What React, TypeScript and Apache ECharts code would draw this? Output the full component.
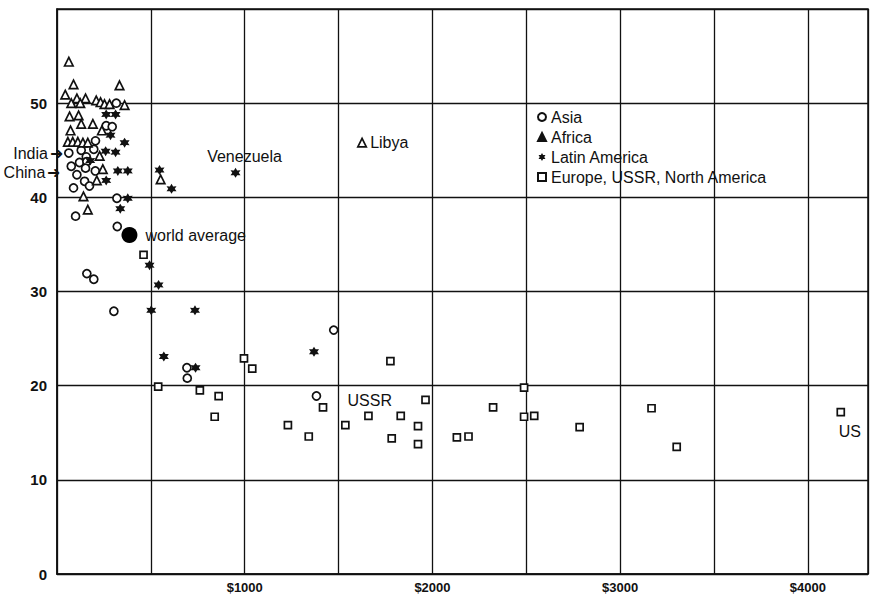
import React, { useEffect, useRef } from "react";
import * as echarts from "echarts";

// GNP per capita ($) vs birth rate (per 1000)
const asia: number[][] = [
  [316, 50.0], [262, 47.6], [294, 47.5], [205, 46.0], [129, 45.0], [196, 45.1],
  [156, 44.3], [120, 43.7], [159, 43.8], [106, 42.4], [152, 43.1], [204, 42.8],
  [147, 41.7], [173, 41.2], [88, 41.0], [319, 39.9], [99, 38.0], [321, 36.9],
  [159, 31.9], [196, 31.3], [303, 27.9], [692, 21.9], [694, 20.8], [1474, 25.9],
  [1382, 18.9],
];
const india = [63, 44.7];
const china = [76, 43.3];

const africa: number[][] = [
  [63, 54.4], [88, 52.0], [333, 51.9], [44, 50.9], [106, 50.5], [152, 50.5],
  [76, 50.0], [124, 50.0], [209, 50.3], [232, 50.1], [253, 49.9], [280, 49.9],
  [360, 49.8], [67, 48.6], [115, 48.7], [129, 47.8], [191, 47.8], [72, 47.1],
  [239, 47.1], [58, 45.9], [84, 45.9], [111, 45.9], [138, 45.8], [164, 45.8],
  [227, 44.4], [244, 43.0], [212, 41.8], [141, 40.1], [164, 38.7], [552, 41.9],
];
const libya = [1625, 45.8];

const latinAmerica: number[][] = [
  [262, 48.8], [312, 48.8], [285, 46.6], [360, 45.8], [259, 44.9], [312, 44.8],
  [177, 43.9], [324, 42.8], [377, 42.8], [262, 41.8], [377, 39.9], [337, 38.8],
  [546, 42.9], [610, 40.9], [493, 32.8], [541, 30.7], [502, 28.0], [735, 28.0],
  [569, 23.1], [738, 21.9], [1369, 23.6],
];
const venezuela = [951, 42.6];

const europe: number[][] = [
  [461, 33.9], [539, 19.9], [761, 19.5], [861, 18.9], [840, 16.7], [996, 22.9],
  [1040, 21.8], [1230, 15.8], [1341, 14.6], [1417, 17.7], [1536, 15.8], [1659, 16.8],
  [1776, 22.6], [1783, 14.4], [1831, 16.8], [1923, 15.7], [1923, 13.8], [1963, 18.5],
  [2130, 14.5], [2192, 14.6], [2323, 17.7], [2488, 19.8], [2488, 16.7], [2542, 16.8],
  [2784, 15.6], [3167, 17.6], [3301, 13.5],
];
const us = [4175, 17.2];
const ussrNote = [1666, 17.6];
const worldAverage = [386, 36.0];

const X_MAX = 4320;
const Y_MAX = 60;
const INK = "#111111";
const FONT = "'Liberation Sans', Arial, Helvetica, sans-serif";

const STAR =
  "path://M50 0L64 26L93.3 25L78 50L93.3 75L64 74L50 100L36 74L6.7 75L22 50L6.7 25L36 26Z";

const hollow = { color: "#ffffff", borderColor: INK, borderWidth: 1.7, opacity: 1 };
const noteLabel = { color: INK, fontFamily: FONT, fontSize: 16 };

export default function App() {
  const ref = useRef<HTMLDivElement>(null);
  useEffect(() => {
    if (!ref.current) return;
    const chart = echarts.init(ref.current, undefined, { renderer: "svg" });
    chart.setOption({
      animation: false,
      backgroundColor: "#ffffff",
      grid: {
        left: 57,
        top: 9,
        right: 3,
        bottom: 23,
        show: true,
        borderColor: INK,
        borderWidth: 1.5,
        backgroundColor: "transparent",
      },
      legend: {
        left: 532,
        top: 104,
        orient: "vertical",
        itemWidth: 8,
        itemHeight: 8,
        itemGap: 4,
        textStyle: { color: INK, fontFamily: FONT, fontSize: 16, padding: [0, 0, 0, 0] },
        data: [
          { name: "Asia", icon: "circle" },
          { name: "Africa", icon: "triangle", itemStyle: { color: INK, borderColor: INK } },
          { name: "Latin America", icon: STAR },
          { name: "Europe, USSR, North America", icon: "rect" },
        ],
      },
      xAxis: {
        type: "value",
        min: 0,
        max: X_MAX,
        interval: 500,
        axisLine: { show: true, lineStyle: { color: INK, width: 1.5 } },
        axisTick: { show: false },
        splitLine: { show: true, lineStyle: { color: INK, width: 1.3 } },
        axisLabel: {
          color: INK,
          fontFamily: FONT,
          fontWeight: "bold",
          fontSize: 13,
          margin: 7,
          showMaxLabel: false,
          formatter: (v: number) => (v > 0 && v % 1000 === 0 ? "$" + v : ""),
        },
      },
      yAxis: {
        type: "value",
        min: 0,
        max: Y_MAX,
        interval: 10,
        axisLine: { show: true, lineStyle: { color: INK, width: 1.5 } },
        axisTick: { show: false },
        splitLine: { show: true, lineStyle: { color: INK, width: 1.3 } },
        axisLabel: {
          color: INK,
          fontFamily: FONT,
          fontWeight: "bold",
          fontSize: 15,
          margin: 10,
          formatter: (v: number) => (v >= Y_MAX ? "" : String(v)),
        },
      },
      series: [
        {
          name: "Europe, USSR, North America",
          type: "scatter",
          symbol: "rect",
          symbolSize: 7,
          itemStyle: hollow,
          data: [
            ...europe,
            {
              value: us,
              label: { show: true, position: "bottom", distance: 7, offset: [9, 0], formatter: "US", ...noteLabel },
            },
          ],
        },
        {
          name: "Asia",
          type: "scatter",
          symbol: "circle",
          symbolSize: 8,
          itemStyle: hollow,
          data: [
            ...asia,
            {
              value: india,
              label: {
                show: true, position: "left", distance: 1, formatter: "India{a|\u279C}", ...noteLabel,
                rich: { a: { fontSize: 16, color: INK, padding: [0, 0, 0, 2] } },
              },
            },
            {
              value: china,
              label: {
                show: true, position: "left", distance: 6, offset: [0, 6], formatter: "China{a|\u279C}", ...noteLabel,
                rich: { a: { fontSize: 16, color: INK, padding: [0, 0, 0, 2] } },
              },
            },
          ],
        },
        {
          name: "Africa",
          type: "scatter",
          symbol: "triangle",
          symbolSize: 8.5,
          itemStyle: hollow,
          data: [
            ...africa,
            {
              value: libya,
              label: { show: true, position: "right", distance: 3, formatter: "Libya", ...noteLabel },
            },
          ],
        },
        {
          name: "Latin America",
          type: "scatter",
          symbol: STAR,
          symbolSize: 10,
          itemStyle: { color: INK, opacity: 1 },
          data: [
            ...latinAmerica,
            {
              value: venezuela,
              label: { show: true, position: "top", distance: 3, offset: [9, 0], formatter: "Venezuela", ...noteLabel },
            },
          ],
        },
        {
          name: "world average",
          type: "scatter",
          symbol: "circle",
          symbolSize: 16,
          itemStyle: { color: "#000", opacity: 1 },
          label: { show: true, position: "right", distance: 8, formatter: "world average", ...noteLabel },
          data: [worldAverage],
        },
        {
          name: "notes",
          type: "scatter",
          symbol: "circle",
          symbolSize: 0,
          itemStyle: { color: INK, opacity: 1 },
          label: { show: true, position: "top", distance: 0, formatter: "USSR", ...noteLabel },
          data: [ussrNote],
        },
      ],
    });
    return () => chart.dispose();
  }, []);
  return <div ref={ref} style={{ width: 871, height: 597, position: "absolute", left: 0, top: 0 }} />;
}
